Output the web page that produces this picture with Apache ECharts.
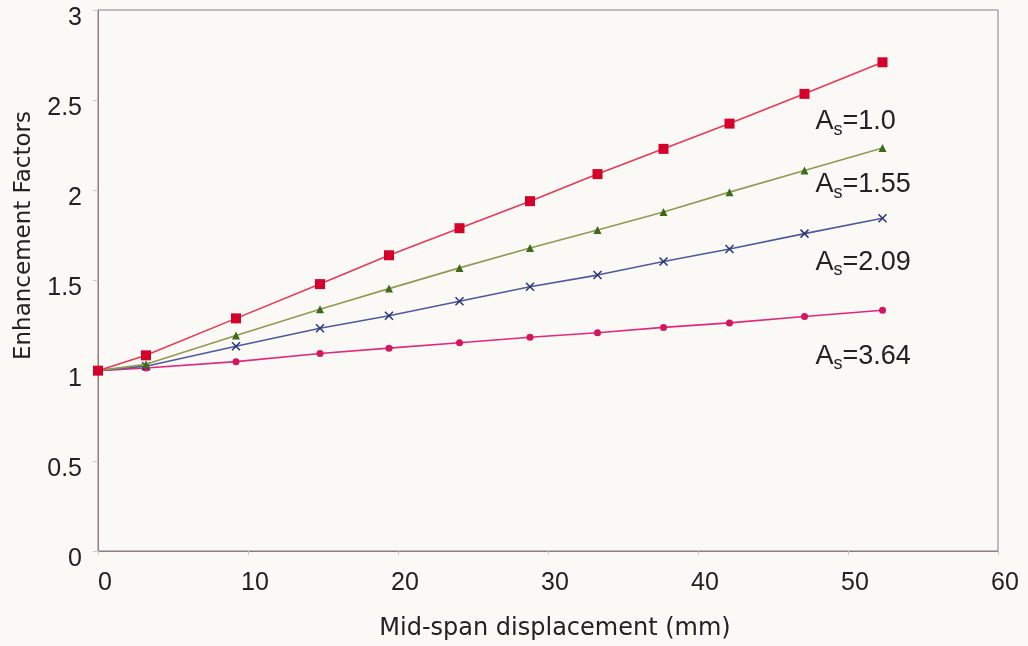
<!DOCTYPE html>
<html>
<head>
<meta charset="utf-8">
<script src="https://cdn.jsdelivr.net/npm/echarts@6/dist/echarts.min.js"></script>
<style>
  html, body { margin: 0; padding: 0; background: #fbf9f6; }
  #chart { width: 1028px; height: 646px; }
</style>
</head>
<body>
<div id="chart"></div>
<script>
// mid-span displacement (mm)
var disp = [0, 3.2, 9.2, 14.8, 19.4, 24.1, 28.8, 33.3, 37.7, 42.1, 47.1, 52.3];

// enhancement factors, one list per A_s
var as100 = [1.0, 1.085, 1.29, 1.48, 1.64, 1.79, 1.94, 2.09, 2.23, 2.37, 2.535, 2.71];
var as155 = [1.0, 1.035, 1.195, 1.34, 1.455, 1.57, 1.68, 1.78, 1.88, 1.99, 2.11, 2.235];
var as209 = [1.0, 1.025, 1.135, 1.235, 1.305, 1.385, 1.465, 1.53, 1.605, 1.675, 1.76, 1.845];
var as364 = [1.0, 1.015, 1.05, 1.095, 1.125, 1.155, 1.185, 1.21, 1.24, 1.265, 1.30, 1.335];

// label text and where it sits (data units)
var labelText = ['1.0', '1.55', '2.09', '3.64'];
var labelAt = [[47.8, 2.38], [47.8, 2.03], [47.8, 1.60], [47.8, 1.08]];

var FONT = '"Liberation Sans", Arial, Helvetica, sans-serif';
var WIDE = '"DejaVu Sans", "Liberation Sans", sans-serif';

function pairs(ys) {
  return disp.map(function (x, i) { return [x, ys[i]]; });
}

function asLabel(i) {
  return {
    coord: labelAt[i],
    symbol: 'circle',
    symbolSize: 1,
    itemStyle: { color: 'rgba(0,0,0,0)' },
    label: {
      show: true,
      position: 'right',
      distance: 0,
      formatter: '{a|A}{s|s}{a|=' + labelText[i] + '}',
      rich: {
        a: { fontFamily: FONT, fontSize: 27, color: '#222', lineHeight: 28 },
        s: { fontFamily: FONT, fontSize: 18, color: '#222', padding: [16, 0, 0, 0] }
      }
    }
  };
}

function line(name, ys, color, mColor, symbol, size, idx, extra) {
  var s = {
    name: name,
    type: 'line',
    data: pairs(ys),
    symbol: symbol,
    symbolSize: size,
    showAllSymbol: true,
    lineStyle: { color: color, width: 1.6 },
    itemStyle: { color: mColor },
    z: 5 - idx,
    markPoint: { silent: true, animation: false, data: [asLabel(idx)] },
    animation: false
  };
  if (extra) Object.assign(s.itemStyle, extra);
  return s;
}

var chart = echarts.init(document.getElementById('chart'));

chart.setOption({
  backgroundColor: '#fbf9f6',
  animation: false,
  grid: { left: 98, top: 10, right: 30, bottom: 94, show: true, borderColor: '#8a7f80', borderWidth: 1, backgroundColor: 'transparent' },
  xAxis: {
    type: 'value',
    min: 0, max: 60, interval: 10,
    name: 'Mid-span displacement (mm)',
    nameLocation: 'middle',
    nameGap: 66,
    nameTextStyle: { fontFamily: WIDE, fontSize: 24, color: '#222', padding: [0, 0, 0, 14] },
    axisLine: { lineStyle: { color: '#8a7f80', width: 1 } },
    axisTick: { show: true, length: 4, lineStyle: { color: '#cfc8c4' } },
    splitLine: { show: false },
    axisLabel: { fontFamily: FONT, fontSize: 25, color: '#222', margin: 20, padding: [0, 0, 0, 14] }
  },
  yAxis: {
    type: 'value',
    min: 0, max: 3, interval: 0.5,
    name: 'Enhancement Factors',
    nameLocation: 'middle',
    nameGap: 62,
    nameTextStyle: { fontFamily: WIDE, fontSize: 23, color: '#222', padding: [0, 0, 0, 90] },
    axisLine: { lineStyle: { color: '#8a7f80', width: 1 } },
    axisTick: { show: true, length: 5, lineStyle: { color: '#cfc8c4' } },
    splitLine: { show: false },
    axisLabel: { fontFamily: FONT, fontSize: 25, color: '#222', margin: 16, verticalAlign: 'top', lineHeight: 16 }
  },
  series: [
    line('As=1.0', as100, '#e63a58', '#d4002c', 'rect', 10, 0),
    line('As=1.55', as155, '#8f9a52', '#3e6a1c', 'triangle', 8, 1),
    line('As=2.09', as209, '#4f5a9c', '#2a3478', 'path://M0,0L10,10M10,0L0,10', 8, 2,
      { color: 'rgba(0,0,0,0)', borderColor: '#2a3478', borderWidth: 1.5 }),
    line('As=3.64', as364, '#e0287c', '#d5165e', 'circle', 7, 3)
  ]
});
</script>
</body>
</html>
